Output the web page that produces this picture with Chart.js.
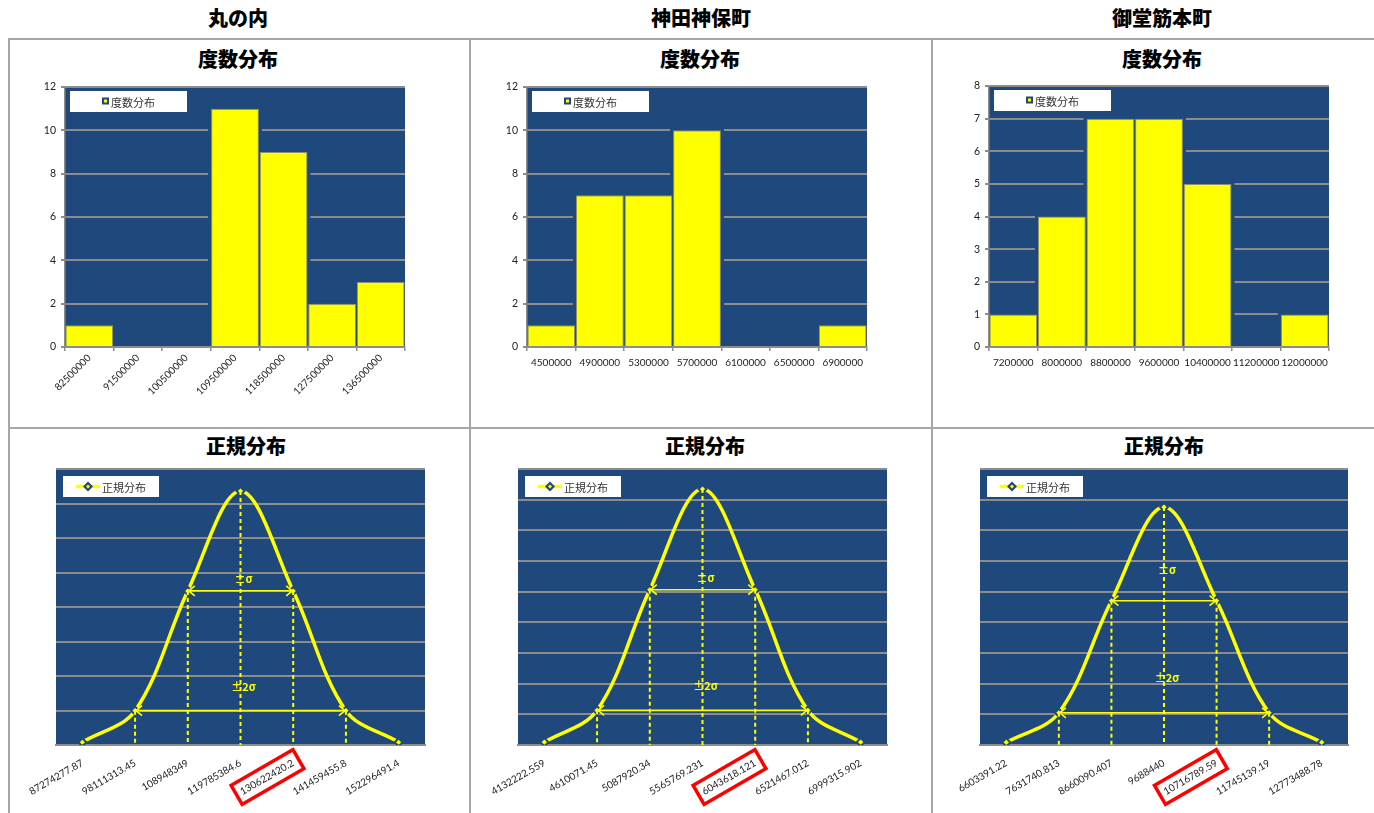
<!DOCTYPE html>
<html>
<head>
<meta charset="utf-8">
<script src="https://cdn.jsdelivr.net/npm/chart.js@4.4.1/dist/chart.umd.min.js"></script>
<style>
  html, body { margin: 0; padding: 0; background: #ffffff; }
  body { width: 1374px; height: 813px; position: relative; overflow: hidden;
         font-family: "Noto Sans CJK JP", "Noto Sans", sans-serif; }
  .rule { position: absolute; background: #a6a6a6; }
  .head { position: absolute; font-weight: 900; font-size: 20px; line-height: 20px; color: #000;
          transform: translate(-50%, -50%); white-space: nowrap; }
  canvas { position: absolute; }
</style>
</head>
<body>

<div class="rule" style="left:8px;top:38px;width:1366px;height:2px"></div>
<div class="rule" style="left:8px;top:427px;width:1366px;height:2px"></div>
<div class="rule" style="left:8px;top:38px;width:2px;height:775px"></div>
<div class="rule" style="left:469px;top:38px;width:2px;height:775px"></div>
<div class="rule" style="left:931px;top:38px;width:2px;height:775px"></div>

<div class="head" style="left:238px;top:18px">丸の内</div>
<div class="head" style="left:701px;top:18px">神田神保町</div>
<div class="head" style="left:1162px;top:18px">御堂筋本町</div>

<div class="head" style="left:238px;top:59px">度数分布</div>
<div class="head" style="left:700px;top:59px">度数分布</div>
<div class="head" style="left:1162px;top:59px">度数分布</div>

<div class="head" style="left:246px;top:446px">正規分布</div>
<div class="head" style="left:705px;top:446px">正規分布</div>
<div class="head" style="left:1164px;top:446px">正規分布</div>

<script>
// ---- frequency tables (histogram bins and counts) ----
const marunouchiBins = ['82500000', '91500000', '100500000', '109500000', '118500000', '127500000', '136500000'];
const marunouchiCounts = [1, 0, 0, 11, 9, 2, 3];

const jimbochoBins = ['4500000', '4900000', '5300000', '5700000', '6100000', '6500000', '6900000'];
const jimbochoCounts = [1, 7, 7, 10, 0, 0, 1];

const midosujiBins = ['7200000', '8000000', '8800000', '9600000', '10400000', '11200000', '12000000'];
const midosujiCounts = [1, 4, 7, 7, 5, 0, 1];

// ---- normal distribution: mean ±1σ, ±2σ, ±3σ and density at each ----
const marunouchiPoints = ['87274277.87', '98111313.45', '108948349', '119785384.6', '130622420.2', '141459455.8', '152296491.4'];
const marunouchiDensity = [4.09e-10, 4.98e-9, 2.233e-8, 3.681e-8, 2.233e-8, 4.98e-9, 4.09e-10];

const jimbochoPoints = ['4132222.559', '4610071.45', '5087920.34', '5565769.231', '6043618.121', '6521467.012', '6999315.902'];
const jimbochoDensity = [9.27e-9, 1.130e-7, 5.064e-7, 8.349e-7, 5.064e-7, 1.130e-7, 9.27e-9];

const midosujiPoints = ['6603391.22', '7631740.813', '8660090.407', '9688440', '10716789.59', '11745139.19', '12773488.78'];
const midosujiDensity = [4.31e-9, 5.250e-8, 2.353e-7, 3.879e-7, 2.353e-7, 5.250e-8, 4.31e-9];

// value-axis ranges
const countAxisMax = [12, 12, 8];
const countAxisStep = [2, 2, 1];
const densityAxisMax = [4e-8, 9e-7, 4.5e-7];
const densityAxisStep = [5e-9, 1e-7, 5e-8];

// ---- styling ----
const NAVY = '#1F497D';
const YELLOW = '#FFFF00';
const GRID = '#8c8c8c';
const CJK = '"Noto Sans CJK JP", sans-serif';
Chart.defaults.font.family = 'Lato, "Liberation Sans", sans-serif';
Chart.defaults.color = '#222';

// navy plot background
const plotBg = {
  id: 'plotBg',
  beforeDraw(chart) {
    const a = chart.chartArea, ctx = chart.ctx;
    ctx.save();
    ctx.fillStyle = NAVY;
    ctx.fillRect(a.left, a.top, a.right - a.left, a.bottom - a.top);
    ctx.restore();
  }
};

// dark halo around bars so the grid lines stop short of them
const barHalo = {
  id: 'barHalo',
  beforeDatasetsDraw(chart) {
    const ctx = chart.ctx, a = chart.chartArea;
    const vals = chart.data.datasets[0].data;
    ctx.save();
    ctx.fillStyle = NAVY;
    chart.getDatasetMeta(0).data.forEach((b, i) => {
      if (!vals[i]) return;
      const p = b.getProps(['x', 'y', 'base', 'width'], true);
      const l = Math.max(a.left + 1, p.x - p.width / 2 - 3);
      const r = Math.min(a.right, p.x + p.width / 2 + 3);
      ctx.fillRect(l, p.y - 3, r - l, p.base - p.y + 2);
    });
    ctx.restore();
  }
};

// legend box drawn inside the plot's upper-left corner
const insideLegend = {
  id: 'insideLegend',
  afterDraw(chart, args, o) {
    const ctx = chart.ctx, a = chart.chartArea;
    const bx = a.left + o.dx, by = a.top + o.dy;
    const text = chart.data.datasets[0].label;
    ctx.save();
    ctx.fillStyle = '#ffffff';
    ctx.fillRect(bx, by, o.w, o.h);
    ctx.font = '11px ' + CJK;
    const tw = ctx.measureText(text).width;
    const markW = o.kind === 'bar' ? 8 : 25;
    const total = markW + 1 + tw;
    const sx = bx + (o.w - total) / 2, cy = by + o.h / 2;
    if (o.kind === 'bar') {
      ctx.fillStyle = NAVY;
      ctx.fillRect(sx, cy - 4, 7, 7);
      ctx.fillStyle = YELLOW;
      ctx.fillRect(sx + 2, cy - 2, 3, 3);
    } else {
      ctx.strokeStyle = YELLOW;
      ctx.lineWidth = 3.5;
      ctx.beginPath(); ctx.moveTo(sx, cy); ctx.lineTo(sx + 24, cy); ctx.stroke();
      const mx = sx + 12;
      ctx.fillStyle = NAVY;
      ctx.beginPath(); ctx.moveTo(mx, cy - 5); ctx.lineTo(mx + 5, cy); ctx.lineTo(mx, cy + 5); ctx.lineTo(mx - 5, cy); ctx.closePath(); ctx.fill();
      ctx.fillStyle = YELLOW;
      ctx.beginPath(); ctx.moveTo(mx, cy - 2); ctx.lineTo(mx + 2, cy); ctx.lineTo(mx, cy + 2); ctx.lineTo(mx - 2, cy); ctx.closePath(); ctx.fill();
    }
    ctx.fillStyle = '#333';
    ctx.textBaseline = 'middle';
    ctx.textAlign = 'left';
    ctx.fillText(text, sx + markW + 1, cy + 1);
    ctx.restore();
  }
};

function hArrow(ctx, x1, x2, y) {
  ctx.beginPath(); ctx.moveTo(x1, y); ctx.lineTo(x2, y); ctx.stroke();
  ctx.beginPath();
  ctx.moveTo(x1 + 7, y - 5); ctx.lineTo(x1 + 1, y); ctx.lineTo(x1 + 7, y + 5);
  ctx.moveTo(x2 - 7, y - 5); ctx.lineTo(x2 - 1, y); ctx.lineTo(x2 - 7, y + 5);
  ctx.stroke();
}

// σ guide lines, ±σ / ±2σ spans and the highlighted tick label
const sigmaMarks = {
  id: 'sigmaMarks',
  afterDatasetsDraw(chart, args, o) {
    const ctx = chart.ctx;
    const pts = chart.getDatasetMeta(0).data;
    const bottom = chart.chartArea.bottom;
    ctx.save();
    ctx.strokeStyle = YELLOW;
    ctx.lineWidth = 2;
    ctx.setLineDash([4, 3]);
    for (let i = 1; i <= 5; i++) {
      ctx.beginPath(); ctx.moveTo(pts[i].x, pts[i].y); ctx.lineTo(pts[i].x, bottom); ctx.stroke();
    }
    ctx.setLineDash([]);
    ctx.lineWidth = 1.6;
    hArrow(ctx, pts[2].x, pts[4].x, pts[2].y);
    hArrow(ctx, pts[1].x, pts[5].x, pts[1].y);
    ctx.fillStyle = YELLOW;
    ctx.font = 'bold 11px ' + CJK;
    ctx.textAlign = 'center';
    ctx.textBaseline = 'middle';
    ctx.fillText('±σ', pts[3].x + 3, pts[2].y - o.s1);
    ctx.fillText('±2σ', pts[3].x + 3, pts[1].y - o.s2);
    ctx.restore();
  },
  afterDraw(chart, args, o) {
    const sc = chart.scales.x;
    const item = sc.getLabelItems()[o.highlight];
    if (!item) return;
    const ctx = chart.ctx;
    const op = item.options;
    ctx.save();
    ctx.font = item.font.string;
    const w = ctx.measureText(item.label).width;
    const h = item.font.size;
    let x0 = -w, x1 = 0;
    if (op.textAlign === 'left') { x0 = 0; x1 = w; }
    else if (op.textAlign === 'center') { x0 = -w / 2; x1 = w / 2; }
    let y0 = item.textOffset - h / 2;
    if (op.textBaseline === 'top') y0 = item.textOffset;
    else if (op.textBaseline === 'bottom') y0 = item.textOffset - h;
    ctx.translate(op.translation[0], op.translation[1]);
    ctx.rotate(op.rotation);
    ctx.strokeStyle = '#FF0000';
    ctx.lineWidth = 3.5;
    ctx.strokeRect(x0 - 5, y0 - 6, (x1 - x0) + 11, h + 12);
    ctx.restore();
  }
};

function makeCanvas(left, top, w, h) {
  const c = document.createElement('canvas');
  c.width = w; c.height = h;
  c.style.left = left + 'px'; c.style.top = top + 'px';
  c.style.width = w + 'px'; c.style.height = h + 'px';
  document.body.appendChild(c);
  return c;
}

function histogram(box, plot, label, bins, counts, yMax, yStep, rot) {
  const yW = 40, xH = 60;
  const cv = makeCanvas(box.left, box.top, box.w, box.h);
  return new Chart(cv, {
    type: 'bar',
    data: {
      labels: bins,
      datasets: [{
        label: label, data: counts,
        backgroundColor: YELLOW, borderColor: '#8f8f6e', borderWidth: 1,
        barPercentage: 0.985, categoryPercentage: 1
      }]
    },
    options: {
      responsive: false, animation: false,
      layout: { padding: {
        left: plot.left - box.left - yW,
        right: box.left + box.w - plot.right,
        top: plot.top - box.top,
        bottom: box.top + box.h - plot.bottom - xH } },
      plugins: {
        legend: { display: false }, tooltip: { enabled: false },
        insideLegend: { kind: 'bar', dx: 5, dy: 4, w: 117, h: 21 }
      },
      scales: {
        x: {
          ticks: { autoSkip: false, minRotation: rot, maxRotation: rot, padding: rot ? 1 : 6,
                   font: { size: 10 }, color: '#222' },
          grid: { display: true, drawOnChartArea: false, offset: true, tickLength: 4, color: GRID, lineWidth: 1.5 },
          border: { display: true, color: GRID, width: 1.5 },
          afterFit(s) { s.height = xH; }
        },
        y: {
          min: 0, max: yMax,
          ticks: { stepSize: yStep, padding: 5, font: { size: 10.5 }, color: '#222' },
          grid: { color: GRID, lineWidth: 2, tickLength: 4 },
          border: { display: true, color: GRID, width: 1.5 },
          afterFit(s) { s.width = yW; }
        }
      }
    },
    plugins: [plotBg, barHalo, insideLegend]
  });
}

function normalCurve(box, plot, points, density, yMax, yStep, s1, s2) {
  const xH = 50;
  const cv = makeCanvas(box.left, box.top, box.w, box.h);
  return new Chart(cv, {
    type: 'line',
    data: {
      labels: points,
      datasets: [{
        label: '正規分布', data: density,
        borderColor: YELLOW, borderWidth: 3.5, tension: 0.35, fill: false,
        pointStyle: 'rectRot', pointRadius: 4, pointBackgroundColor: YELLOW,
        pointBorderColor: NAVY, pointBorderWidth: 2
      }]
    },
    options: {
      responsive: false, animation: false,
      layout: { padding: {
        left: plot.left - box.left,
        right: box.left + box.w - plot.right,
        top: plot.top - box.top,
        bottom: box.top + box.h - plot.bottom - xH } },
      plugins: {
        legend: { display: false }, tooltip: { enabled: false },
        insideLegend: { kind: 'line', dx: 7, dy: 7, w: 96, h: 21 },
        sigmaMarks: { s1: s1, s2: s2, highlight: 4 }
      },
      scales: {
        x: {
          offset: true,
          ticks: { autoSkip: false, minRotation: 30, maxRotation: 30, padding: 4,
                   font: { size: 10 }, color: '#222' },
          grid: { display: false },
          border: { display: true, color: GRID, width: 2 },
          afterFit(s) { s.height = xH; }
        },
        y: {
          min: 0, max: yMax,
          ticks: { display: false, stepSize: yStep },
          grid: { color: GRID, lineWidth: 2, drawTicks: false },
          border: { display: false },
          afterFit(s) { s.width = 0; }
        }
      }
    },
    plugins: [plotBg, sigmaMarks, insideLegend]
  });
}

// top row: frequency histograms
histogram({ left: 10, top: 70, w: 458, h: 355 }, { left: 65, right: 405, top: 87, bottom: 347 },
  '度数分布', marunouchiBins, marunouchiCounts, countAxisMax[0], countAxisStep[0], 45);
histogram({ left: 472, top: 70, w: 458, h: 355 }, { left: 527, right: 867, top: 87, bottom: 347 },
  '度数分布', jimbochoBins, jimbochoCounts, countAxisMax[1], countAxisStep[1], 0);
histogram({ left: 934, top: 70, w: 440, h: 355 }, { left: 989, right: 1329, top: 86, bottom: 347 },
  '度数分布', midosujiBins, midosujiCounts, countAxisMax[2], countAxisStep[2], 0);

// bottom row: normal distribution curves
normalCurve({ left: 10, top: 452, w: 458, h: 358 }, { left: 56, right: 425, top: 469, bottom: 745 },
  marunouchiPoints, marunouchiDensity, densityAxisMax[0], densityAxisStep[0], 12, 24);
normalCurve({ left: 472, top: 452, w: 458, h: 358 }, { left: 518, right: 887, top: 469, bottom: 745 },
  jimbochoPoints, jimbochoDensity, densityAxisMax[1], densityAxisStep[1], 12, 25);
normalCurve({ left: 934, top: 452, w: 440, h: 358 }, { left: 980, right: 1348, top: 469, bottom: 745 },
  midosujiPoints, midosujiDensity, densityAxisMax[2], densityAxisStep[2], 31, 35);
</script>
</body>
</html>
